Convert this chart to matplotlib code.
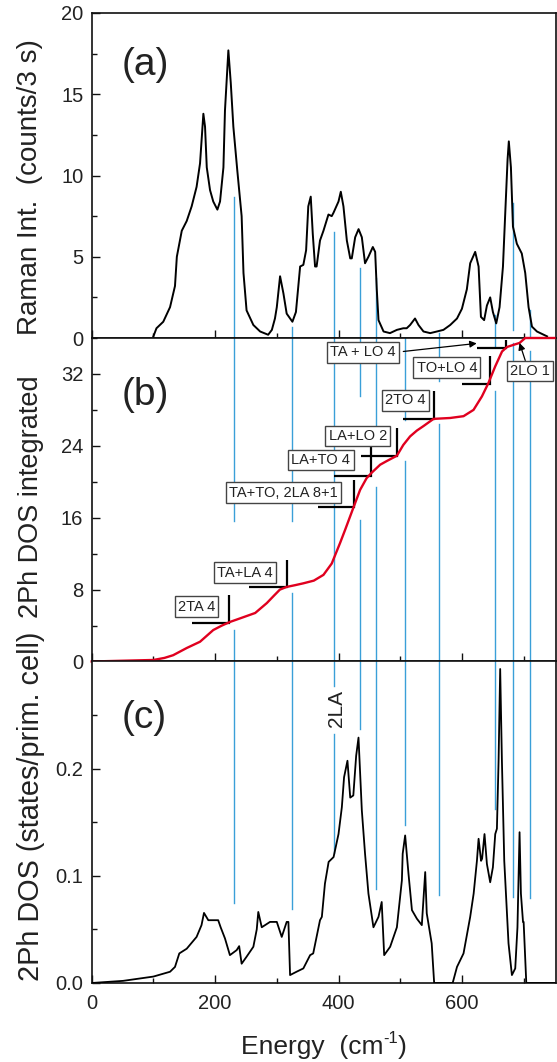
import matplotlib
matplotlib.use('Agg')
import matplotlib.pyplot as plt
from matplotlib.ticker import MultipleLocator, FixedLocator, FormatStrFormatter

plt.rcParams['font.family'] = ['Liberation Sans', 'DejaVu Sans']
plt.rcParams['mathtext.default'] = 'regular'

# ---------------- data ----------------
# (a) Raman spectrum
raman_x = [100, 105, 116, 127, 135, 138, 146, 154, 162, 170,
           175.6, 181, 183.7, 186.5, 191.8, 197, 203.7, 208, 213.5, 216,
           221.5, 225.4, 229.6, 236, 243, 246, 251, 262, 273, 286,
           292, 297, 300, 305.3, 310.7, 316, 325.3, 331, 337.8, 343,
           347.5, 351, 355, 358.3, 362, 364.5, 370, 375.6, 383.7, 389,
           391.8, 400, 403.7, 408, 413.5, 419, 421.5, 427, 432.5, 437.8,
           443, 448.5, 455.6, 459.4, 462, 464.8, 473, 483.4, 494.6, 505,
           510.5, 516, 524, 529.6, 537.7, 548.6, 559.4, 570, 581, 592,
           600, 608, 613.4, 621.5, 627, 630.8, 636, 640.5, 645.8, 650.2,
           655.6, 661, 666.5, 670, 674, 676, 679.4, 682.7, 689, 697,
           702.6, 708, 713.5, 721.6, 738]
raman_y = [0.1, 0.6, 1.0, 1.9, 3.2, 5.0, 6.6, 7.2, 8.1, 9.3,
           10.75, 13.8, 13.0, 10.5, 9.1, 8.4, 7.9, 8.4, 10.5, 14.0,
           17.7, 15.7, 13.0, 10.3, 7.5, 4.0, 1.7, 0.8, 0.4, 0.2,
           0.5, 1.2, 1.9, 3.8, 2.75, 1.5, 1.0, 1.6, 4.4, 4.5,
           5.4, 8.1, 8.7, 6.4, 4.4, 4.4, 6.0, 6.6, 7.6, 7.5,
           7.7, 8.4, 9.0, 8.1, 6.0, 4.9, 4.9, 6.2, 6.7, 6.2,
           4.6, 5.0, 5.6, 5.3, 3.0, 1.1, 0.4, 0.3, 0.5, 0.6,
           0.6, 0.8, 1.2, 0.8, 0.4, 0.3, 0.4, 0.5, 0.8, 1.2,
           1.8, 3.0, 4.6, 5.3, 4.4, 1.3, 1.1, 2.0, 2.5, 1.6,
           0.9, 1.9, 4.4, 7.5, 11.0, 12.1, 10.5, 6.85, 5.8, 5.2,
           4.0, 1.9, 0.7, 0.4, 0.1]

# (b) integrated two-phonon DOS
int_x = [0, 100, 118, 132, 154, 175.6, 197, 211, 224, 240.5,
         265, 283.8, 295, 305, 316, 330, 343, 360, 375.6, 389,
         402.6, 410.7, 424, 435, 445.5, 453.6, 467.5, 478, 494.6, 505,
         516, 527, 537.7, 554, 581, 602.6, 618.8, 632.4, 643, 654,
         665, 673, 686.4, 693.4, 702.6, 750]
int_y = [0, 0.17, 0.4, 0.7, 1.5, 2.2, 3.5, 4.0, 4.4, 4.8,
         5.4, 6.5, 7.3, 8.0, 8.3, 8.5, 8.7, 9.0, 9.64, 10.9,
         13.2, 14.65, 17.1, 19.1, 20.4, 21.0, 21.9, 22.3, 22.9, 24.1,
         25.05, 25.7, 26.2, 27.0, 27.1, 27.3, 28.0, 29.5, 31.0, 32.85,
         34.5, 35.0, 35.3, 35.45, 36.0, 36.0]

# (c) two-phonon DOS
dos_x = [0, 51, 100, 127, 135, 142, 154, 170, 178, 182,
         189, 205, 209, 216, 224, 235, 239, 243, 251, 262,
         267.5, 270, 275.6, 289, 300, 308, 316, 318.8, 321.5, 332,
         343, 354, 359, 370, 373, 378, 384, 392, 400, 405.4,
         409, 414.5, 419, 424, 428.6, 432.4, 437.8, 443, 448.5, 456.6,
         464.8, 470, 474, 483.7, 494.6, 502.7, 504, 508, 513.4, 519,
         527, 535, 540.5, 543, 551, 555, 585, 592, 602.6, 613.4,
         619, 624.3, 627, 631, 632.7, 636.6, 640.5, 645.8, 650.2, 654,
         656.7, 659.4, 662, 664.8, 668.6, 675.5, 681, 686.4, 690, 693.4,
         695.6, 699, 700, 704.3, 750]
dos_y = [0, 0.002, 0.006, 0.0105, 0.015, 0.0276, 0.032, 0.043, 0.054, 0.0654,
         0.0586, 0.0586, 0.052, 0.0416, 0.026, 0.0307, 0.0344, 0.018, 0.0245, 0.0338,
         0.050, 0.0663, 0.052, 0.057, 0.057, 0.043, 0.057, 0.057, 0.0074, 0.0105,
         0.0136, 0.026, 0.0276, 0.0586, 0.0617, 0.0927, 0.113, 0.1175, 0.139, 0.164,
         0.192, 0.2074, 0.173, 0.175, 0.212, 0.229, 0.161, 0.1206, 0.0834, 0.052,
         0.0617, 0.0756, 0.026, 0.0338, 0.052, 0.0958, 0.1206, 0.1377, 0.102, 0.068,
         0.060, 0.054, 0.1035, 0.065, 0.037, 0.0, 0.0, 0.015, 0.0276, 0.0617,
         0.0834, 0.114, 0.1346, 0.114, 0.116, 0.139, 0.111, 0.094, 0.108, 0.139,
         0.144, 0.2074, 0.293, 0.2074, 0.114, 0.037, 0.0074, 0.0136, 0.052, 0.1407,
         0.0834, 0.057, 0.057, 0.0, 0.0]

# vertical guide lines (energies) and their visible extents in each panel
guide_x = [231, 324, 392, 435, 461, 507, 563, 653, 682, 711]
guide_a = [[(0, 8.7)], [(0, 0.7)], [(0, 6.5)], [(0, 4.3)], [(0, 3.7)], [],
           [(0, 0.3)], [(0, 1.4)], [(0.5, 8.3)], [(0, 1.7)]]
guide_b = [[(0, 3.5), (15.6, 36)], [(0, 7.6), (15.6, 36)], [(0, 36)],
           [(0, 15.8), (29.5, 36)], [(0, 19.4), (25, 36)], [(0, 22.3), (26.9, 36)],
           [(0, 26.4), (31.2, 36)], [(0, 30.1), (35, 36)], [(0, 35.4)], [(0, 34.5)]]
guide_c = [[(0.075, 0.3)], [(0.069, 0.3)], [(0.121, 0.232), (0.277, 0.3)],
           [(0.237, 0.3)], [(0.088, 0.3)], [(0.147, 0.3)], [(0.082, 0.3)],
           [(0.1625, 0.3)], [(0.080, 0.3)], [(0.079, 0.3)]]

# labelled two-phonon combinations in (b)
lab_text = ['2TA 4', 'TA+LA 4', 'TA+TO, 2LA 8+1', 'LA+TO 4', 'LA+LO 2',
            '2TO 4', 'TO+LO 4', 'TA + LO 4', '2LO 1']
lab_x = [170, 248.5, 310.5, 371.5, 431, 508, 575.5, 440, 710.5]
lab_y = [6.1, 9.9, 18.8, 22.45, 25.1, 29.05, 32.7, 34.4, 32.3]
# bracket corners on the curve
brk_x = [223, 316, 425, 453, 494.5, 554, 646, 672]
brk_y = [4.25, 8.3, 17.2, 20.6, 22.9, 27.0, 30.9, 34.9]
brk_left = [162, 255, 367.5, 392, 437, 505, 600, 625]
brk_top = [7.4, 11.3, 20.2, 23.9, 26.0, 30.1, 34.0, 35.8]

# ---------------- figure ----------------
FW, FH = 557, 1062
fig = plt.figure(figsize=(FW / 100, FH / 100), dpi=100)
L, W = 0.1646, 0.8331
axa = fig.add_axes([L, 0.68173, W, 0.98776 - 0.68173])
axb = fig.add_axes([L, 0.37712, W, 0.68173 - 0.37712])
axc = fig.add_axes([L, 0.07439, W, 0.37712 - 0.07439])

BLUE = '#3a9fd8'
RED = '#e0001f'
TXT = '#222222'

for ax in (axa, axb, axc):
    ax.set_xlim(0, 752)
    ax.xaxis.set_major_locator(MultipleLocator(200))
    ax.xaxis.set_minor_locator(MultipleLocator(100))
    ax.tick_params(which='both', direction='in', top=False, right=False,
                   width=1.0, color='#111111', labelcolor=TXT, labelsize=14.5)
    ax.tick_params(which='major', length=6, pad=6)
    ax.tick_params(which='minor', length=3.5)
    for s in ax.spines.values():
        s.set_linewidth(1.2)
        s.set_color('#111111')

axa.tick_params(labelbottom=False)
axb.tick_params(labelbottom=False)
axc.tick_params(axis='x', pad=8)

# panel (a)
axa.set_ylim(0, 20)
axa.yaxis.set_major_locator(MultipleLocator(5))
axa.yaxis.set_minor_locator(MultipleLocator(2.5))
for gx, segs in zip(guide_x, guide_a):
    for lo, hi in segs:
        axa.plot([gx, gx], [lo, hi], color=BLUE, lw=1.0, zorder=1)
axa.plot(raman_x, raman_y, color='black', lw=1.4, zorder=3)
axa.text(48, 16.8, '(a)', fontsize=28, color=TXT, ha='left', va='center')

# panel (b)
axb.set_ylim(0, 36)
axb.yaxis.set_major_locator(MultipleLocator(8))
axb.yaxis.set_minor_locator(MultipleLocator(4))
for gx, segs in zip(guide_x, guide_b):
    for lo, hi in segs:
        axb.plot([gx, gx], [lo, hi], color=BLUE, lw=1.0, zorder=1)
for cx, cy, lx, ty in zip(brk_x, brk_y, brk_left, brk_top):
    axb.plot([lx, cx, cx], [cy, cy, ty], color='black', lw=1.6, zorder=4,
             solid_joinstyle='miter', solid_capstyle='butt')
axb.plot(int_x, int_y, color=RED, lw=1.7, zorder=6, clip_on=False,
         solid_joinstyle='round')
for s, x, y in zip(lab_text, lab_x, lab_y):
    axb.text(x, y, s, fontsize=10.5, color=TXT, ha='center', va='center', zorder=5,
             bbox=dict(boxstyle='square,pad=0.22', fc='white', ec='#444444', lw=1.0))
axb.annotate('', xy=(624, 35.4), xytext=(505, 34.5),
             arrowprops=dict(arrowstyle='-|>', color='black', lw=0.9,
                             mutation_scale=10, shrinkA=0, shrinkB=0), zorder=6)
axb.annotate('', xy=(693.4, 35.45), xytext=(702.6, 33.5),
             arrowprops=dict(arrowstyle='-|>', color='black', lw=0.9,
                             mutation_scale=10, shrinkA=0, shrinkB=0), zorder=6)
axb.text(48, 29.7, '(b)', fontsize=28, color=TXT, ha='left', va='center')

# panel (c)
axc.set_ylim(0, 0.3)
axc.yaxis.set_major_locator(FixedLocator([0.0, 0.1, 0.2]))
axc.yaxis.set_minor_locator(FixedLocator([0.05, 0.15, 0.25]))
axc.yaxis.set_major_formatter(FormatStrFormatter('%.1f'))
for gx, segs in zip(guide_x, guide_c):
    for lo, hi in segs:
        axc.plot([gx, gx], [lo, hi], color=BLUE, lw=1.0, zorder=1)
axc.plot(dos_x, dos_y, color='black', lw=1.3, zorder=3)
axc.text(396, 0.256, '2LA', fontsize=15, color=TXT, rotation=90,
         ha='center', va='center')
axc.text(48, 0.247, '(c)', fontsize=28, color=TXT, ha='left', va='center')

# axis labels
fig.text(30 / FW, 1 - 187.5 / FH, 'Raman Int.  (counts/3 s)', rotation=90,
         fontsize=20, color=TXT, ha='center', va='center')
fig.text(31 / FW, 1 - 497 / FH, '2Ph DOS integrated', rotation=90,
         fontsize=19.5, color=TXT, ha='center', va='center')
fig.text(31 / FW, 1 - 806 / FH, '2Ph DOS (states/prim. cell)', rotation=90,
         fontsize=20.8, color=TXT, ha='center', va='center')

# x label with a plain hyphen superscript
renderer = fig.canvas.get_renderer()
parts = [('Energy  (cm', 19, 0), ('-1', 12, 11), (')', 19, 0)]
texts = [fig.text(0, 0, s, fontsize=fs, color=TXT, ha='left', va='baseline')
         for s, fs, _ in parts]
widths = [t.get_window_extent(renderer).width for t in texts]
xpos = 323.8 - sum(widths) / 2
base = FH - 1054
for t, w, (s, fs, dy) in zip(texts, widths, parts):
    t.set_position((xpos / FW, (base + dy) / FH))
    xpos += w

fig.savefig('out.png', dpi=100)
